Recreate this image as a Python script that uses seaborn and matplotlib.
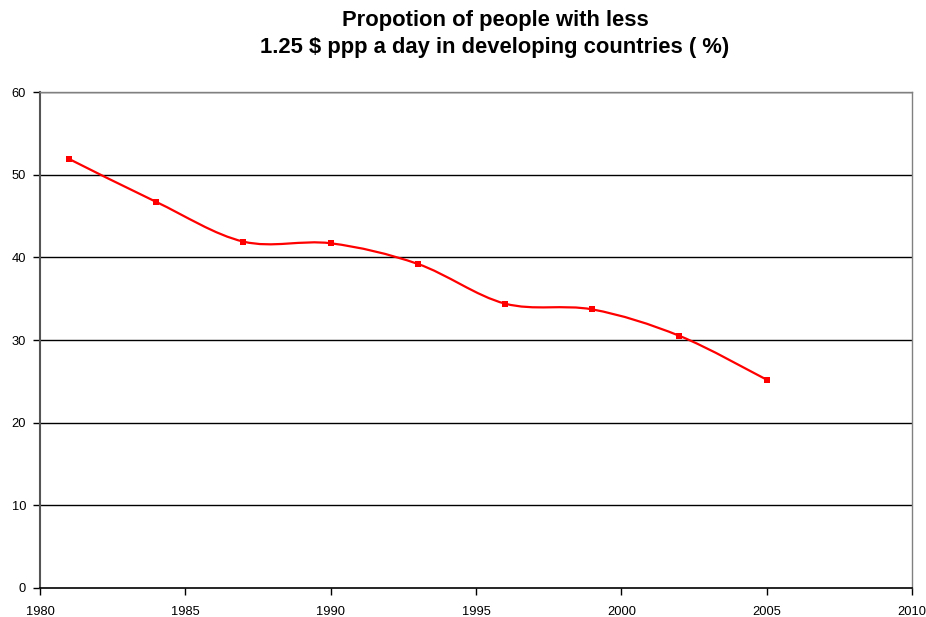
import matplotlib
matplotlib.use("Agg")
import matplotlib.pyplot as plt
import seaborn as sns
import numpy as np
import pandas as pd
from matplotlib.path import Path
from matplotlib.patches import PathPatch

years = [1981, 1984, 1987, 1990, 1993, 1996, 1999, 2002, 2005]
share = [51.9, 46.7, 41.9, 41.7, 39.2, 34.4, 33.7, 30.5, 25.2]
x_ticks = [1980, 1985, 1990, 1995, 2000, 2005, 2010]
y_ticks = [0, 10, 20, 30, 40, 50, 60]
title = "Propotion of people with less\n1.25 $ ppp a day in developing countries ( %)"

sns.set_theme(style="white")
plt.rcParams['font.family'] = ['Liberation Sans', 'DejaVu Sans']

df = pd.DataFrame({"year": years, "share": share})

fig = plt.figure(figsize=(9.26, 6.17), dpi=100)
ax = fig.add_axes([40/926, 1-588/617, (912-40)/926, (588-92)/617])

# smoothed line (Catmull-Rom Bezier, like Excel's smoothed line)
pts = np.column_stack([df["year"].to_numpy(float), df["share"].to_numpy(float)])
verts = [tuple(pts[0])]
codes = [Path.MOVETO]
n = len(pts)
for i in range(n - 1):
    p0 = pts[i - 1] if i > 0 else pts[i]
    p1 = pts[i]
    p2 = pts[i + 1]
    p3 = pts[i + 2] if i + 2 < n else pts[i + 1]
    c1 = p1 + (p2 - p0) / 6.0
    c2 = p2 - (p3 - p1) / 6.0
    verts += [tuple(c1), tuple(c2), tuple(p2)]
    codes += [Path.CURVE4] * 3
ax.add_patch(PathPatch(Path(verts, codes), facecolor="none", edgecolor="#FF0000",
                       lw=1.6, zorder=3))

sns.scatterplot(data=df, x="year", y="share", ax=ax, marker="s", s=22,
                color="#FF0000", edgecolor="#FF0000", linewidth=0, zorder=4)

ax.set_xlim(1980, 2010)
ax.set_ylim(0, 60)
ax.set_xticks(x_ticks)
ax.set_yticks(y_ticks)
ax.set_xlabel("")
ax.set_ylabel("")
ax.tick_params(axis="both", labelsize=9.3, colors="black", length=5, width=1,
               direction="out", pad=5)
ax.tick_params(axis="x", pad=8)
ax.xaxis.set_ticks_position("bottom")
ax.yaxis.set_ticks_position("left")

for y in y_ticks[1:]:
    ax.axhline(y, color="black", lw=1, zorder=1)

ax.spines["left"].set_color("#555555")
ax.spines["left"].set_linewidth(1.5)
ax.spines["bottom"].set_color("black")
ax.spines["bottom"].set_linewidth(1.2)
ax.spines["top"].set_color("#808080")
ax.spines["top"].set_linewidth(1)
ax.spines["right"].set_color("#808080")
ax.spines["right"].set_linewidth(1)
for s in ax.spines.values():
    s.set_visible(True)

fig.text(495/926, 1-34/617, title, ha="center", va="center", fontsize=15.8,
         fontweight="bold", color="black", linespacing=1.32)

fig.savefig("out.png", dpi=100, facecolor="white")
